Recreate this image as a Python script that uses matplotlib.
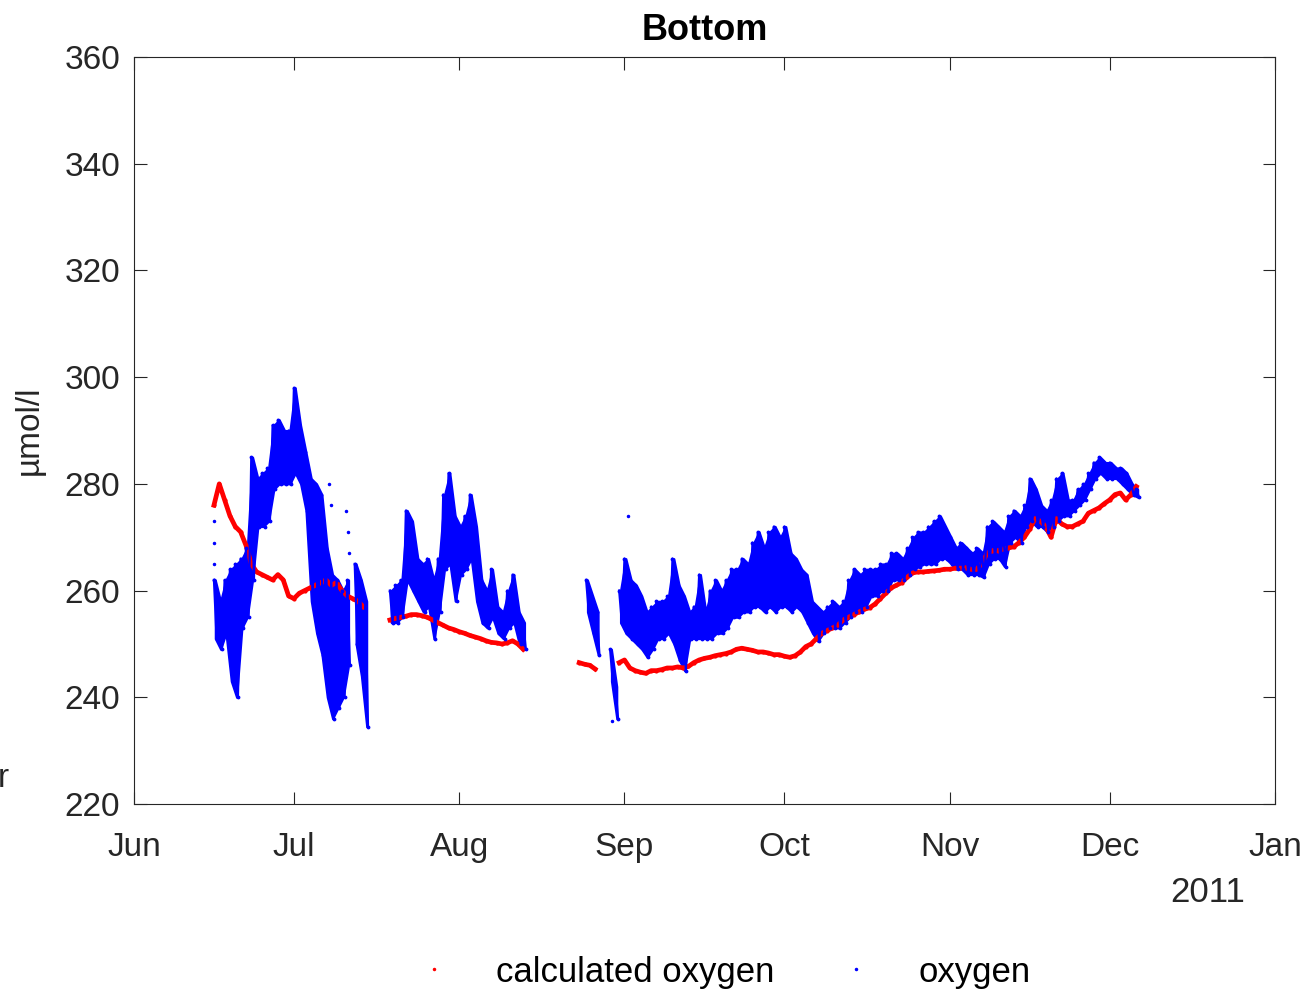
import datetime
import numpy as np
import matplotlib
matplotlib.use('Agg')
import matplotlib.pyplot as plt
import matplotlib.dates as mdates
from matplotlib.lines import Line2D

plt.rcParams['font.family'] = ['Liberation Sans', 'DejaVu Sans']

# days counted from 1 June 2011; one value per day for each deployment
calc_start_1 = 15
calc_1 = [276, 280, 277, 274, 272, 271, 268.5, 265, 263.5, 263, 262.5, 262, 263, 262,
          259, 258.5, 259.5, 260, 260.5, 261, 261.5, 262, 261, 261.5, 260, 259, 258.5,
          258, 257]

calc_start_2 = 48
calc_2 = [254.5, 254.8, 255, 255.2, 255.5, 255.5, 255.3, 255, 254.5, 254, 253.5, 253,
          252.7, 252.3, 252, 251.6, 251.3, 251, 250.6, 250.3, 250.2, 250, 250.2, 250.6,
          250, 249]

calc_start_3 = 83.5
calc_3 = [246.5, 246.2, 246, 245.3]

calc_start_4 = 91
calc_4 = [246.5, 247, 245.5, 245, 244.7, 244.5, 245, 245, 245.2, 245.5,
          245.5, 245.7, 245.5, 245.8, 246.5, 247, 247.3, 247.5, 247.8, 248,
          248.2, 248.5, 249, 249.2, 249, 248.8, 248.5, 248.5, 248.3, 248,
          248, 247.7, 247.5, 247.8, 248.5, 249.5, 250, 251, 252, 252.5,
          253, 253.5, 254.5, 255, 255.5, 256, 256.5, 256.8, 257.5, 258.5,
          259.5, 260.5, 261, 261.5, 262.5, 263.3, 263.5, 263.5, 263.6, 263.7,
          263.8, 264, 264, 264.2, 264.2, 264.3, 264, 264, 265, 267,
          267.5, 267.5, 267.8, 268, 268.2, 269, 270, 271.5, 273.5, 273,
          272, 270, 273.5, 272.5, 272, 272, 272.5, 273, 274.5, 275,
          275.5, 276.3, 277, 278, 278.3, 277, 278, 279.5]

# measured oxygen: daily high and low of the tidal swing
oxy_start_1 = 15
oxy_hi_1 = [262, 258, 262, 264, 265, 266, 268, 285, 281, 282, 283, 291, 292, 290, 290,
            298, 291, 286, 281, 280, 278, 268, 263, 262, 260, 262]
oxy_lo_1 = [251, 249, 252, 243, 240, 253, 255, 262, 272, 272, 273, 279, 280, 280, 280,
            282, 280, 275, 258, 252, 248, 240, 236, 238, 240, 246]

oxy_start_2 = 41.4
oxy_hi_2 = [265, 262, 258]
oxy_lo_2 = [250, 244, 234.5]

oxy_start_3 = 48
oxy_hi_3 = [260, 261, 262, 275, 273, 266, 265, 266, 262, 266, 278, 282, 274, 272, 274,
            278, 272, 262, 260, 264, 257, 256, 260, 263, 256, 254]
oxy_lo_3 = [254, 254, 255, 262, 260, 258, 256, 257, 251, 256, 264, 265, 258, 263, 264,
            266, 258, 254, 253, 255, 252, 251, 253, 254, 250, 249]

oxy_start_4 = 84.8
oxy_hi_4 = [262, 259, 256]
oxy_lo_4 = [256, 252, 248]

oxy_start_5 = 89.3
oxy_hi_5 = [249, 242]
oxy_lo_5 = [243, 236]

oxy_start_6 = 91
oxy_hi_6 = [260, 266, 262, 261, 259, 256, 257, 258, 258, 259,
            266, 261, 259, 256, 257, 263, 256, 260, 262, 260,
            262, 264, 264, 266, 265, 269, 271, 268, 271, 272,
            270, 272, 267, 266, 264, 263, 258, 257, 256, 257,
            258, 257, 258, 262, 264, 263, 264, 264, 264, 265,
            265, 267, 267, 266, 268, 270, 271, 271, 272, 273,
            274, 272, 270, 268, 269, 268, 267, 268, 267, 272,
            273, 272, 271, 274, 275, 274, 276, 281, 279, 276,
            275, 277, 281, 282, 277, 277, 279, 280, 282, 284,
            285, 284, 284, 283, 283, 282, 280, 279]
oxy_lo_6 = [254, 252, 251, 250, 249, 247.5, 249, 251, 251, 252,
            250, 247, 245, 251, 251, 251, 251, 251, 252, 252,
            253, 255, 255, 256, 256, 257, 257, 256, 257, 256,
            257, 257, 256, 257, 256, 254, 252, 250.5, 252, 253,
            253, 253, 254, 255, 256, 256, 257, 259, 259, 260,
            260, 262, 262, 262, 263, 264, 264.5, 265, 265, 265,
            266, 266, 265, 264, 264, 263, 263, 263, 262.5, 265,
            266, 266, 264.5, 269, 270, 269, 272, 273, 272, 272,
            271, 272, 273, 274, 274, 275, 276, 277, 279, 281,
            282, 281, 281, 281, 280, 279, 278, 277.5]

# isolated oxygen readings away from the main trace
stray_days = [15.0, 15.0, 15.1, 15.0, 36.5, 37.0, 39.8, 40.2, 40.4, 92.6, 89.6]
stray_vals = [273, 269, 265, 262, 280, 276, 275, 271, 267, 274, 235.5]

base = mdates.date2num(datetime.datetime(2011, 6, 1))
end = mdates.date2num(datetime.datetime(2012, 1, 1))

fig = plt.figure(figsize=(13.07, 9.94), dpi=100)
ax = fig.add_axes([0.1025, 0.1911, 0.873, 0.7516])

dark = '#262626'

for start, vals in [(calc_start_1, calc_1), (calc_start_2, calc_2),
                    (calc_start_3, calc_3), (calc_start_4, calc_4)]:
    t = base + start + np.arange(len(vals))
    ax.plot(t, vals, '-', color='r', lw=3.4, marker='.', ms=4)

for start, hi, lo in [(oxy_start_1, oxy_hi_1, oxy_lo_1), (oxy_start_2, oxy_hi_2, oxy_lo_2),
                      (oxy_start_3, oxy_hi_3, oxy_lo_3), (oxy_start_4, oxy_hi_4, oxy_lo_4),
                      (oxy_start_5, oxy_hi_5, oxy_lo_5), (oxy_start_6, oxy_hi_6, oxy_lo_6)]:
    t = base + start + np.arange(len(hi))
    # band between daily low and high, with the tidal zigzag over it
    ax.fill_between(t + 0.25, lo, hi, color='b', lw=1.5, edgecolor='b')
    tt = np.column_stack([t, t + 0.5]).ravel()
    vv = np.column_stack([hi, lo]).ravel()
    ax.plot(tt, vv, '-', color='b', lw=1.6, marker='.', ms=3.5)

ax.plot(base + np.array(stray_days), stray_vals, '.', color='b', ms=3, ls='none')

ax.set_xlim(base, end)
ax.set_ylim(220, 360)
ax.set_yticks(np.arange(220, 361, 20))
ax.xaxis.set_major_locator(mdates.MonthLocator())
ax.xaxis.set_major_formatter(mdates.DateFormatter('%b'))

ax.tick_params(direction='in', top=True, right=True, length=9, width=0.8,
               colors=dark, labelsize=24)
ax.tick_params(axis='x', pad=20)
ax.tick_params(axis='y', pad=10)
for s in ax.spines.values():
    s.set_color(dark)
    s.set_linewidth(0.8)

ax.set_title('Bottom', fontsize=26, fontweight='bold', color='black', pad=12)
ax.set_ylabel('µmol/l', fontsize=24, color=dark)
ax.yaxis.set_label_coords(-0.078, 0.5)

fig.text(1245 / 1307, 1 - 892 / 994, '2011', ha='right', va='center',
         fontsize=25, color=dark)
fig.text(-0.002, 1 - 787 / 994, 'r', ha='left', va='baseline', fontsize=24, color=dark)

handles = [Line2D([], [], ls='none', marker='.', color='r', ms=3),
           Line2D([], [], ls='none', marker='.', color='b', ms=3)]
fig.legend(handles, ['calculated oxygen', 'oxygen'], loc='center',
           bbox_to_anchor=(0.547, 0.022), ncol=2, frameon=False, fontsize=25,
           handlelength=2.0, handletextpad=0.8, columnspacing=1.35)

fig.savefig('out.png', dpi=100)
